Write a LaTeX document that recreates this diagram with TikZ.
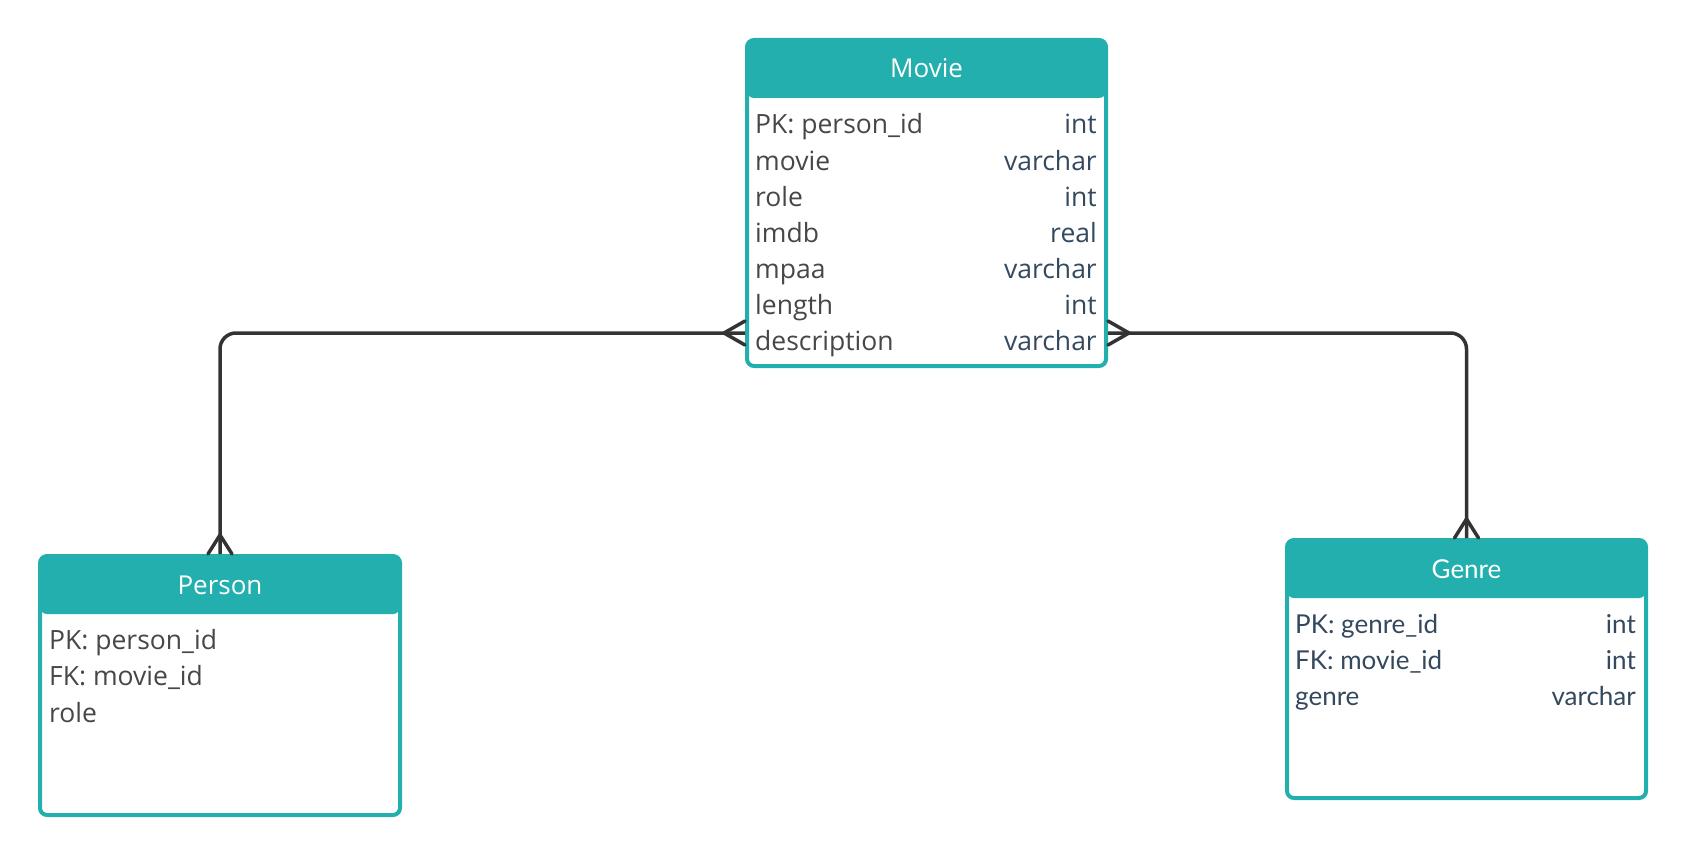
\documentclass[tikz,border=0pt]{standalone}
\usepackage{fontspec}
\setmainfont{Open Sans}
\newfontfamily\latofont{Lato}
\usetikzlibrary{calc}
\definecolor{vert}{HTML}{23AFAE}
\definecolor{gris}{HTML}{474747}
\definecolor{bleu}{HTML}{34495E}
\definecolor{trait}{HTML}{333333}
\begin{document}
\begin{tikzpicture}[x=1pt, y=-1pt]
	\tikzset{table/.style={draw=vert, fill=white, line width=4pt, rounded corners=7pt, inner sep=0pt,
			path picture={\fill[vert] (path picture bounding box.north west) rectangle ([yshift=-58pt]path picture bounding box.north east);}},
		titre/.style={anchor=base, inner sep=0pt, text=white, font=\fontsize{26}{30}\selectfont},
		champ/.style={anchor=base west, inner sep=0pt, text=gris, font=\fontsize{26.5}{30}\selectfont},
		type/.style={anchor=base east, inner sep=0pt, text=bleu, font=\fontsize{26.5}{30}\selectfont},
		lato/.style={text=bleu, font=\latofont\fontsize{26}{30}\selectfont},
		lien/.style={draw=trait, line width=3.5pt, rounded corners=16pt},
		patte/.style={draw=trait, line width=3.5pt, line cap=round, line join=round}}
	\useasboundingbox (0,0) rectangle (1686,856);

	% les tables
	\node[table, minimum width=359pt, minimum height=326pt] (movie) at (926.5,203) {};
	\node[table, minimum width=360pt, minimum height=259pt] (person) at (220,685.5) {};
	\node[table, minimum width=359pt, minimum height=258pt] (genre) at (1466.5,669) {};

	\node[titre] (movie-titre) at ($(movie.north)+(0,40)$) {Movie};
	\node[titre] (person-titre) at ($(person.north)+(0,40)$) {Person};
	\node[titre, font=\latofont\fontsize{26}{30}\selectfont] (genre-titre) at ($(genre.north)+(0,40)$) {Genre};

	\foreach \nom/\typ [count=\i from 0] in {PK: person\_id/int, movie/varchar, role/int, imdb/real, mpaa/varchar, length/int, description/varchar} {
		\node[champ] (movie-c\i) at ($(movie.north west)+(10,{96+36*\i})$) {\nom};
		\node[type] (movie-t\i) at ($(movie.north east)+(-11,{96+36*\i})$) {\typ};
	}
	\foreach \nom [count=\i from 0] in {PK: person\_id, FK: movie\_id, role}
		\node[champ] (person-c\i) at ($(person.north west)+(11,{95+36.5*\i})$) {\nom};
	\foreach \nom/\typ [count=\i from 0] in {PK: genre\_id/int, FK: movie\_id/int, genre/varchar} {
		\node[champ, lato] (genre-c\i) at ($(genre.north west)+(10,{95+36*\i})$) {\nom};
		\node[type, lato] (genre-t\i) at ($(genre.north east)+(-12,{95+36*\i})$) {\typ};
	}

	% les liens
	\coordinate (movie-g) at ($(movie.north west)+(0,295)$);
	\coordinate (movie-d) at ($(movie.north east)+(0,295)$);
	\draw[lien] (movie-g) -| (person.north);
	\draw[lien] (movie-d) -| (genre.north);

	\draw[patte] ($(movie-g)+(0,-12)$) -- ($(movie-g)+(-21,0)$) -- ($(movie-g)+(0,12)$);
	\draw[patte] ($(movie-d)+(0,-12)$) -- ($(movie-d)+(21,0)$) -- ($(movie-d)+(0,12)$);
	\draw[patte] ($(person.north)+(-12,0)$) -- ($(person.north)+(0,-19)$) -- ($(person.north)+(12,0)$);
	\draw[patte] ($(genre.north)+(-12,0)$) -- ($(genre.north)+(0,-19)$) -- ($(genre.north)+(12,0)$);
\end{tikzpicture}
\end{document}
